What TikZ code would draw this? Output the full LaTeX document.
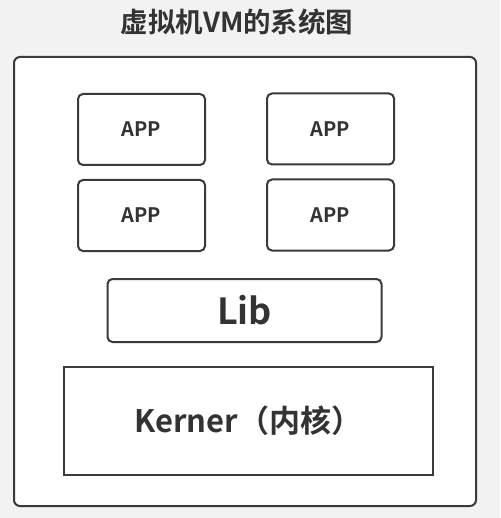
\documentclass[tikz,border=0pt]{standalone}
\usepackage{fontspec}
\setmainfont{Noto Sans CJK SC}[BoldFont={* Bold}]
\begin{document}
\begin{tikzpicture}[x=1pt,y=-1pt,
  box/.style={draw=linec,line width=2pt,fill=white,rounded corners=5pt},
  appbox/.style={box,minimum width=127pt,minimum height=71pt,inner sep=0pt,font=\bfseries\fontsize{20}{22}\selectfont,text=textc},
]
\definecolor{linec}{HTML}{3A3A3A}
\definecolor{textc}{HTML}{333333}
\definecolor{bgc}{HTML}{F2F2F2}
\fill[bgc] (0,0) rectangle (500,518);
\useasboundingbox (0,0) rectangle (500,518);
\node[font=\bfseries\fontsize{27.5}{30}\selectfont,text=textc] (title) at (237,22) {虚拟机VM的系统图};
\draw[box,rounded corners=6pt] (14,57) rectangle (476,506);
\node[appbox] (app1) at (141.5,129.5) {APP};
\node[appbox] (app2) at (330.5,129) {APP};
\node[appbox] (app3) at (141.5,215.5) {APP};
\node[appbox] (app4) at (330.5,215) {APP};
\node[box,minimum width=274pt,minimum height=63pt,inner sep=0pt,font=\bfseries\fontsize{36}{40}\selectfont,text=textc] (lib) at (244.5,310.5) {Lib};
\node[draw=linec,line width=2pt,fill=white,minimum width=369pt,minimum height=108pt,inner sep=0pt,font=\bfseries\fontsize{31}{36}\selectfont,text=textc] (kern) at (248.5,421) {Kerner（内核）};
\end{tikzpicture}
\end{document}
